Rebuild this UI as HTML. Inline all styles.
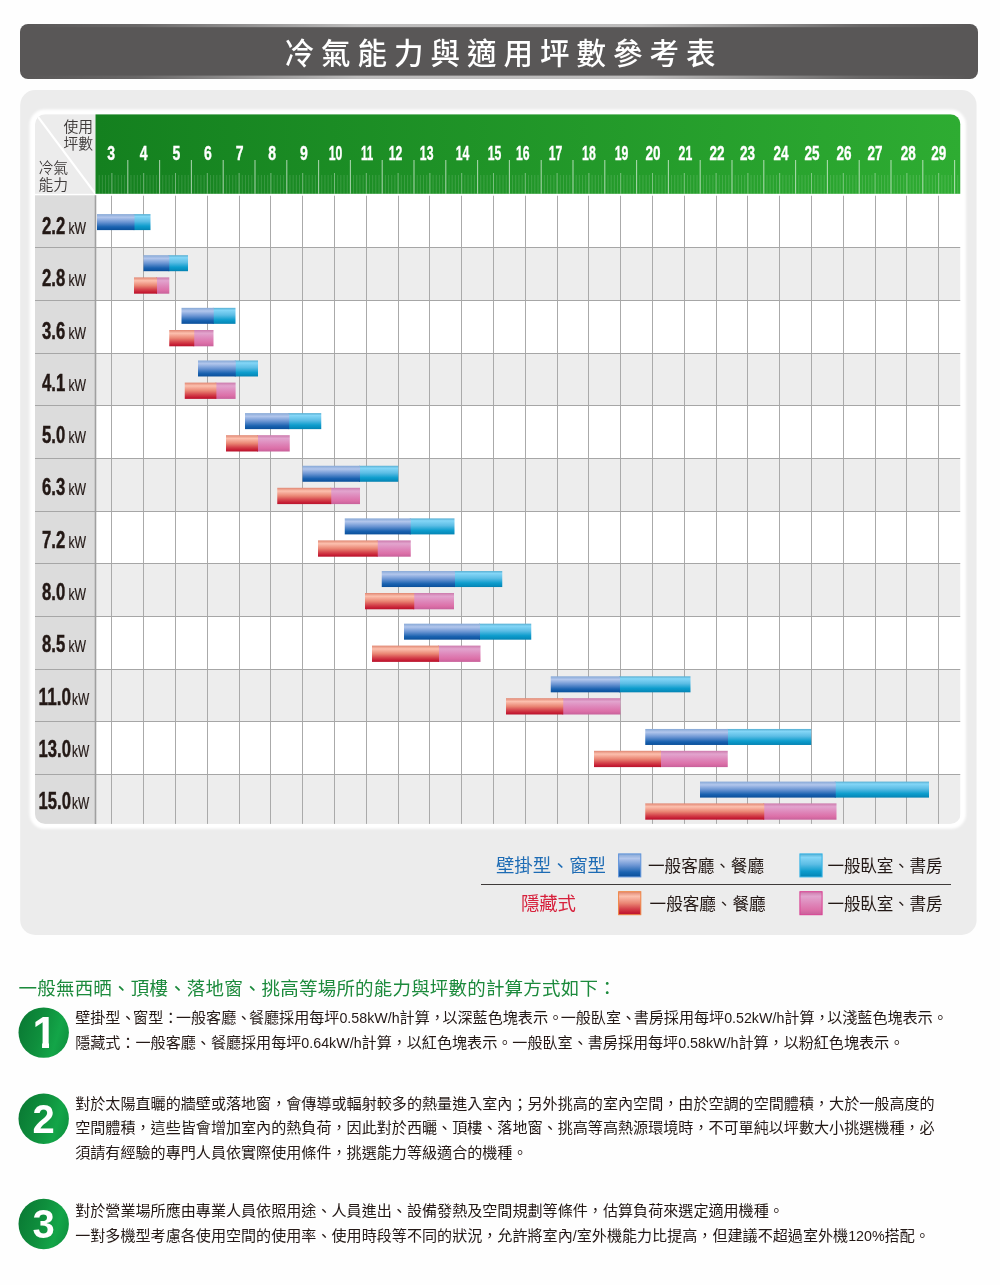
<!DOCTYPE html>
<html lang="zh-Hant"><head><meta charset="utf-8"><title>冷氣能力與適用坪數參考表</title>
<style>html,body{margin:0;padding:0;background:#fefefe}body{width:1000px;height:1285px;overflow:hidden}</style>
</head><body>
<svg width="1000" height="1285" viewBox="0 0 1000 1285" style="display:block">
<defs>
<linearGradient id="gGreen" x1="0" y1="0" x2="1" y2="0"><stop offset="0" stop-color="#14801f"/><stop offset="1" stop-color="#2eac32"/></linearGradient>
<linearGradient id="gB1" x1="0" y1="0" x2="0" y2="1"><stop offset="0" stop-color="#86a8d6"/><stop offset="0.2" stop-color="#b2c6ec"/><stop offset="0.5" stop-color="#6b95d3"/><stop offset="0.8" stop-color="#1a62b0"/><stop offset="1" stop-color="#0a4f9a"/></linearGradient>
<linearGradient id="gB2" x1="0" y1="0" x2="0" y2="1"><stop offset="0" stop-color="#56aed2"/><stop offset="0.15" stop-color="#84d6f7"/><stop offset="0.45" stop-color="#5cbde5"/><stop offset="0.75" stop-color="#0e9dcd"/><stop offset="0.95" stop-color="#0589b9"/><stop offset="1" stop-color="#037eae"/></linearGradient>
<linearGradient id="gR1" x1="0" y1="0" x2="0" y2="1"><stop offset="0" stop-color="#e08672"/><stop offset="0.2" stop-color="#fcc0ae"/><stop offset="0.5" stop-color="#ea8674"/><stop offset="0.75" stop-color="#d4414a"/><stop offset="0.92" stop-color="#c41a32"/><stop offset="1" stop-color="#b8162e"/></linearGradient>
<linearGradient id="gR2" x1="0" y1="0" x2="0" y2="1"><stop offset="0" stop-color="#cc7aac"/><stop offset="0.2" stop-color="#e2a4ce"/><stop offset="0.55" stop-color="#de84b8"/><stop offset="0.8" stop-color="#dc70a8"/><stop offset="1" stop-color="#c8609a"/></linearGradient>
<linearGradient id="gHi" x1="0" y1="0" x2="1" y2="0"><stop offset="0" stop-color="#fff" stop-opacity="0"/><stop offset="0.12" stop-color="#fff" stop-opacity="0.1"/><stop offset="0.35" stop-color="#fff" stop-opacity="0.6"/><stop offset="0.65" stop-color="#fff" stop-opacity="0.6"/><stop offset="0.88" stop-color="#fff" stop-opacity="0.1"/><stop offset="1" stop-color="#fff" stop-opacity="0"/></linearGradient>
<linearGradient id="gCirc" x1="0" y1="0.3" x2="1" y2="0.6"><stop offset="0" stop-color="#0a7a34"/><stop offset="0.45" stop-color="#0f8f3d"/><stop offset="0.78" stop-color="#13a548"/><stop offset="1" stop-color="#0f9440"/></linearGradient>
<clipPath id="cTab"><rect x="35" y="114.2" width="925.5" height="709.7" rx="10" ry="10"/></clipPath>
<filter id="fBlur" x="-5%" y="-5%" width="110%" height="110%"><feGaussianBlur stdDeviation="0.8"/></filter>
</defs>
<rect width="1000" height="1285" fill="#fefefe"/>
<rect x="20" y="24" width="958" height="55" rx="8" ry="8" fill="#595757"/>
<rect x="24" y="24" width="950" height="3.2" fill="url(#gHi)"/>
<rect x="24" y="75.6" width="950" height="3.4" fill="url(#gHi)"/>
<text x="500" y="64.2" font-family='"Liberation Sans", "Noto Sans CJK TC", sans-serif' font-size="29.5" font-weight="500" fill="#fff" text-anchor="middle" textLength="431" lengthAdjust="spacing">冷氣能力與適用坪數參考表</text>
<rect x="20.2" y="90" width="956.4" height="845" rx="15" ry="15" fill="#ececec"/>
<rect x="29.6" y="109.6" width="936.4" height="719.2" rx="15" ry="15" fill="#fff" filter="url(#fBlur)"/>
<g clip-path="url(#cTab)">
<rect x="35" y="114.2" width="925.5" height="709.7" fill="#fff"/>
<rect x="35" y="114.2" width="60.5" height="79.6" fill="#ececec"/>
<line x1="36" y1="114.2" x2="95.5" y2="193.8" stroke="#fff" stroke-width="2.2"/>
<rect x="95.5" y="114.2" width="865" height="79.6" fill="url(#gGreen)"/>
<path d="M99.18 175V193.8M102.36 175V193.8M105.54 175V193.8M108.72 175V193.8M115.08 175V193.8M118.26 175V193.8M121.44 175V193.8M124.62 175V193.8M130.98 175V193.8M134.16 175V193.8M137.34 175V193.8M140.52 175V193.8M146.88 175V193.8M150.06 175V193.8M153.24 175V193.8M156.42 175V193.8M162.78 175V193.8M165.96 175V193.8M169.14 175V193.8M172.32 175V193.8M178.68 175V193.8M181.86 175V193.8M185.04 175V193.8M188.22 175V193.8M194.58 175V193.8M197.76 175V193.8M200.94 175V193.8M204.12 175V193.8M210.48 175V193.8M213.66 175V193.8M216.84 175V193.8M220.02 175V193.8M226.38 175V193.8M229.56 175V193.8M232.74 175V193.8M235.92 175V193.8M242.28 175V193.8M245.46 175V193.8M248.64 175V193.8M251.82 175V193.8M258.18 175V193.8M261.36 175V193.8M264.54 175V193.8M267.72 175V193.8M274.08 175V193.8M277.26 175V193.8M280.44 175V193.8M283.62 175V193.8M289.98 175V193.8M293.16 175V193.8M296.34 175V193.8M299.52 175V193.8M305.88 175V193.8M309.06 175V193.8M312.24 175V193.8M315.42 175V193.8M321.78 175V193.8M324.96 175V193.8M328.14 175V193.8M331.32 175V193.8M337.68 175V193.8M340.86 175V193.8M344.04 175V193.8M347.22 175V193.8M353.58 175V193.8M356.76 175V193.8M359.94 175V193.8M363.12 175V193.8M369.48 175V193.8M372.66 175V193.8M375.84 175V193.8M379.02 175V193.8M385.38 175V193.8M388.56 175V193.8M391.74 175V193.8M394.92 175V193.8M401.28 175V193.8M404.46 175V193.8M407.64 175V193.8M410.82 175V193.8M417.18 175V193.8M420.36 175V193.8M423.54 175V193.8M426.72 175V193.8M433.08 175V193.8M436.26 175V193.8M439.44 175V193.8M442.62 175V193.8M448.98 175V193.8M452.16 175V193.8M455.34 175V193.8M458.52 175V193.8M464.88 175V193.8M468.06 175V193.8M471.24 175V193.8M474.42 175V193.8M480.78 175V193.8M483.96 175V193.8M487.14 175V193.8M490.32 175V193.8M496.68 175V193.8M499.86 175V193.8M503.04 175V193.8M506.22 175V193.8M512.58 175V193.8M515.76 175V193.8M518.94 175V193.8M522.12 175V193.8M528.48 175V193.8M531.66 175V193.8M534.84 175V193.8M538.02 175V193.8M544.38 175V193.8M547.56 175V193.8M550.74 175V193.8M553.92 175V193.8M560.28 175V193.8M563.46 175V193.8M566.64 175V193.8M569.82 175V193.8M576.18 175V193.8M579.36 175V193.8M582.54 175V193.8M585.72 175V193.8M592.08 175V193.8M595.26 175V193.8M598.44 175V193.8M601.62 175V193.8M607.98 175V193.8M611.16 175V193.8M614.34 175V193.8M617.52 175V193.8M623.88 175V193.8M627.06 175V193.8M630.24 175V193.8M633.42 175V193.8M639.78 175V193.8M642.96 175V193.8M646.14 175V193.8M649.32 175V193.8M655.68 175V193.8M658.86 175V193.8M662.04 175V193.8M665.22 175V193.8M671.58 175V193.8M674.76 175V193.8M677.94 175V193.8M681.12 175V193.8M687.48 175V193.8M690.66 175V193.8M693.84 175V193.8M697.02 175V193.8M703.38 175V193.8M706.56 175V193.8M709.74 175V193.8M712.92 175V193.8M719.28 175V193.8M722.46 175V193.8M725.64 175V193.8M728.82 175V193.8M735.18 175V193.8M738.36 175V193.8M741.54 175V193.8M744.72 175V193.8M751.08 175V193.8M754.26 175V193.8M757.44 175V193.8M760.62 175V193.8M766.98 175V193.8M770.16 175V193.8M773.34 175V193.8M776.52 175V193.8M782.88 175V193.8M786.06 175V193.8M789.24 175V193.8M792.42 175V193.8M798.78 175V193.8M801.96 175V193.8M805.14 175V193.8M808.32 175V193.8M814.68 175V193.8M817.86 175V193.8M821.04 175V193.8M824.22 175V193.8M830.58 175V193.8M833.76 175V193.8M836.94 175V193.8M840.12 175V193.8M846.48 175V193.8M849.66 175V193.8M852.84 175V193.8M856.02 175V193.8M862.38 175V193.8M865.56 175V193.8M868.74 175V193.8M871.92 175V193.8M878.28 175V193.8M881.46 175V193.8M884.64 175V193.8M887.82 175V193.8M894.18 175V193.8M897.36 175V193.8M900.54 175V193.8M903.72 175V193.8M910.08 175V193.8M913.26 175V193.8M916.44 175V193.8M919.62 175V193.8M925.98 175V193.8M929.16 175V193.8M932.34 175V193.8M935.52 175V193.8M941.88 175V193.8M945.06 175V193.8M948.24 175V193.8M951.42 175V193.8M957.78 175V193.8" stroke="#fff" stroke-opacity="0.16" stroke-width="0.9" fill="none"/>
<path d="M111.90 173V193.8M143.70 173V193.8M175.50 173V193.8M207.30 173V193.8M239.10 173V193.8M270.90 173V193.8M302.70 173V193.8M334.50 173V193.8M366.30 173V193.8M398.10 173V193.8M429.90 173V193.8M461.70 173V193.8M493.50 173V193.8M525.30 173V193.8M557.10 173V193.8M588.90 173V193.8M620.70 173V193.8M652.50 173V193.8M684.30 173V193.8M716.10 173V193.8M747.90 173V193.8M779.70 173V193.8M811.50 173V193.8M843.30 173V193.8M875.10 173V193.8M906.90 173V193.8M938.70 173V193.8" stroke="#fff" stroke-opacity="0.4" stroke-width="1" fill="none"/>
<path d="M127.80 160V193.8M159.60 160V193.8M191.40 160V193.8M223.20 160V193.8M255.00 160V193.8M286.80 160V193.8M318.60 160V193.8M350.40 160V193.8M382.20 160V193.8M414.00 160V193.8M445.80 160V193.8M477.60 160V193.8M509.40 160V193.8M541.20 160V193.8M573.00 160V193.8M604.80 160V193.8M636.60 160V193.8M668.40 160V193.8M700.20 160V193.8M732.00 160V193.8M763.80 160V193.8M795.60 160V193.8M827.40 160V193.8M859.20 160V193.8M891.00 160V193.8M922.80 160V193.8M954.60 160V193.8" stroke="#fff" stroke-opacity="0.6" stroke-width="1.1" fill="none"/>
<text x="107.25" y="160.4" font-family='"Liberation Sans", sans-serif' font-weight="700" font-size="19.5" fill="#fff" stroke="#fff" stroke-width="0.35" textLength="7.8" lengthAdjust="spacingAndGlyphs">3</text>
<text x="139.80" y="160.4" font-family='"Liberation Sans", sans-serif' font-weight="700" font-size="19.5" fill="#fff" stroke="#fff" stroke-width="0.35" textLength="7.8" lengthAdjust="spacingAndGlyphs">4</text>
<text x="172.60" y="160.4" font-family='"Liberation Sans", sans-serif' font-weight="700" font-size="19.5" fill="#fff" stroke="#fff" stroke-width="0.35" textLength="7.8" lengthAdjust="spacingAndGlyphs">5</text>
<text x="203.90" y="160.4" font-family='"Liberation Sans", sans-serif' font-weight="700" font-size="19.5" fill="#fff" stroke="#fff" stroke-width="0.35" textLength="7.8" lengthAdjust="spacingAndGlyphs">6</text>
<text x="235.70" y="160.4" font-family='"Liberation Sans", sans-serif' font-weight="700" font-size="19.5" fill="#fff" stroke="#fff" stroke-width="0.35" textLength="7.8" lengthAdjust="spacingAndGlyphs">7</text>
<text x="268.25" y="160.4" font-family='"Liberation Sans", sans-serif' font-weight="700" font-size="19.5" fill="#fff" stroke="#fff" stroke-width="0.35" textLength="7.8" lengthAdjust="spacingAndGlyphs">8</text>
<text x="300.05" y="160.4" font-family='"Liberation Sans", sans-serif' font-weight="700" font-size="19.5" fill="#fff" stroke="#fff" stroke-width="0.35" textLength="7.8" lengthAdjust="spacingAndGlyphs">9</text>
<text x="328.70" y="160.4" font-family='"Liberation Sans", sans-serif' font-weight="700" font-size="19.5" fill="#fff" stroke="#fff" stroke-width="0.35" textLength="13.6" lengthAdjust="spacingAndGlyphs">10</text>
<text x="360.95" y="160.4" font-family='"Liberation Sans", sans-serif' font-weight="700" font-size="19.5" fill="#fff" stroke="#fff" stroke-width="0.35" textLength="12.2" lengthAdjust="spacingAndGlyphs">11</text>
<text x="388.80" y="160.4" font-family='"Liberation Sans", sans-serif' font-weight="700" font-size="19.5" fill="#fff" stroke="#fff" stroke-width="0.35" textLength="13.6" lengthAdjust="spacingAndGlyphs">12</text>
<text x="419.85" y="160.4" font-family='"Liberation Sans", sans-serif' font-weight="700" font-size="19.5" fill="#fff" stroke="#fff" stroke-width="0.35" textLength="13.6" lengthAdjust="spacingAndGlyphs">13</text>
<text x="455.80" y="160.4" font-family='"Liberation Sans", sans-serif' font-weight="700" font-size="19.5" fill="#fff" stroke="#fff" stroke-width="0.35" textLength="13.6" lengthAdjust="spacingAndGlyphs">14</text>
<text x="487.70" y="160.4" font-family='"Liberation Sans", sans-serif' font-weight="700" font-size="19.5" fill="#fff" stroke="#fff" stroke-width="0.35" textLength="13.6" lengthAdjust="spacingAndGlyphs">15</text>
<text x="516.00" y="160.4" font-family='"Liberation Sans", sans-serif' font-weight="700" font-size="19.5" fill="#fff" stroke="#fff" stroke-width="0.35" textLength="13.6" lengthAdjust="spacingAndGlyphs">16</text>
<text x="548.70" y="160.4" font-family='"Liberation Sans", sans-serif' font-weight="700" font-size="19.5" fill="#fff" stroke="#fff" stroke-width="0.35" textLength="13.6" lengthAdjust="spacingAndGlyphs">17</text>
<text x="582.10" y="160.4" font-family='"Liberation Sans", sans-serif' font-weight="700" font-size="19.5" fill="#fff" stroke="#fff" stroke-width="0.35" textLength="13.6" lengthAdjust="spacingAndGlyphs">18</text>
<text x="614.65" y="160.4" font-family='"Liberation Sans", sans-serif' font-weight="700" font-size="19.5" fill="#fff" stroke="#fff" stroke-width="0.35" textLength="13.6" lengthAdjust="spacingAndGlyphs">19</text>
<text x="645.50" y="160.4" font-family='"Liberation Sans", sans-serif' font-weight="700" font-size="19.5" fill="#fff" stroke="#fff" stroke-width="0.35" textLength="15" lengthAdjust="spacingAndGlyphs">20</text>
<text x="678.60" y="160.4" font-family='"Liberation Sans", sans-serif' font-weight="700" font-size="19.5" fill="#fff" stroke="#fff" stroke-width="0.35" textLength="13.6" lengthAdjust="spacingAndGlyphs">21</text>
<text x="709.60" y="160.4" font-family='"Liberation Sans", sans-serif' font-weight="700" font-size="19.5" fill="#fff" stroke="#fff" stroke-width="0.35" textLength="15" lengthAdjust="spacingAndGlyphs">22</text>
<text x="739.90" y="160.4" font-family='"Liberation Sans", sans-serif' font-weight="700" font-size="19.5" fill="#fff" stroke="#fff" stroke-width="0.35" textLength="15" lengthAdjust="spacingAndGlyphs">23</text>
<text x="773.45" y="160.4" font-family='"Liberation Sans", sans-serif' font-weight="700" font-size="19.5" fill="#fff" stroke="#fff" stroke-width="0.35" textLength="15" lengthAdjust="spacingAndGlyphs">24</text>
<text x="804.50" y="160.4" font-family='"Liberation Sans", sans-serif' font-weight="700" font-size="19.5" fill="#fff" stroke="#fff" stroke-width="0.35" textLength="15" lengthAdjust="spacingAndGlyphs">25</text>
<text x="836.60" y="160.4" font-family='"Liberation Sans", sans-serif' font-weight="700" font-size="19.5" fill="#fff" stroke="#fff" stroke-width="0.35" textLength="15" lengthAdjust="spacingAndGlyphs">26</text>
<text x="867.50" y="160.4" font-family='"Liberation Sans", sans-serif' font-weight="700" font-size="19.5" fill="#fff" stroke="#fff" stroke-width="0.35" textLength="15" lengthAdjust="spacingAndGlyphs">27</text>
<text x="900.80" y="160.4" font-family='"Liberation Sans", sans-serif' font-weight="700" font-size="19.5" fill="#fff" stroke="#fff" stroke-width="0.35" textLength="15" lengthAdjust="spacingAndGlyphs">28</text>
<text x="931.35" y="160.4" font-family='"Liberation Sans", sans-serif' font-weight="700" font-size="19.5" fill="#fff" stroke="#fff" stroke-width="0.35" textLength="15" lengthAdjust="spacingAndGlyphs">29</text>
<rect x="95.5" y="195.30" width="865" height="52.64" fill="#ffffff"/>
<rect x="35" y="195.30" width="60.5" height="52.64" fill="#dcdcdc"/>
<rect x="95.5" y="247.94" width="865" height="52.64" fill="#ededed"/>
<rect x="35" y="247.94" width="60.5" height="52.64" fill="#dcdcdc"/>
<rect x="95.5" y="300.58" width="865" height="52.64" fill="#ffffff"/>
<rect x="35" y="300.58" width="60.5" height="52.64" fill="#dcdcdc"/>
<rect x="95.5" y="353.22" width="865" height="52.64" fill="#ededed"/>
<rect x="35" y="353.22" width="60.5" height="52.64" fill="#dcdcdc"/>
<rect x="95.5" y="405.86" width="865" height="52.64" fill="#ffffff"/>
<rect x="35" y="405.86" width="60.5" height="52.64" fill="#dcdcdc"/>
<rect x="95.5" y="458.50" width="865" height="52.64" fill="#ededed"/>
<rect x="35" y="458.50" width="60.5" height="52.64" fill="#dcdcdc"/>
<rect x="95.5" y="511.14" width="865" height="52.64" fill="#ffffff"/>
<rect x="35" y="511.14" width="60.5" height="52.64" fill="#dcdcdc"/>
<rect x="95.5" y="563.78" width="865" height="52.64" fill="#ededed"/>
<rect x="35" y="563.78" width="60.5" height="52.64" fill="#dcdcdc"/>
<rect x="95.5" y="616.42" width="865" height="52.64" fill="#ffffff"/>
<rect x="35" y="616.42" width="60.5" height="52.64" fill="#dcdcdc"/>
<rect x="95.5" y="669.06" width="865" height="52.64" fill="#ededed"/>
<rect x="35" y="669.06" width="60.5" height="52.64" fill="#dcdcdc"/>
<rect x="95.5" y="721.70" width="865" height="52.64" fill="#ffffff"/>
<rect x="35" y="721.70" width="60.5" height="52.64" fill="#dcdcdc"/>
<rect x="95.5" y="774.34" width="865" height="49.56" fill="#ededed"/>
<rect x="35" y="774.34" width="60.5" height="49.56" fill="#dcdcdc"/>
<path d="M111.5 195.7V823.9M143.5 195.7V823.9M175.5 195.7V823.9M207.5 195.7V823.9M239.5 195.7V823.9M270.5 195.7V823.9M302.5 195.7V823.9M334.5 195.7V823.9M366.5 195.7V823.9M398.5 195.7V823.9M429.5 195.7V823.9M461.5 195.7V823.9M493.5 195.7V823.9M525.5 195.7V823.9M557.5 195.7V823.9M588.5 195.7V823.9M620.5 195.7V823.9M652.5 195.7V823.9M684.5 195.7V823.9M716.5 195.7V823.9M747.5 195.7V823.9M779.5 195.7V823.9M811.5 195.7V823.9M843.5 195.7V823.9M875.5 195.7V823.9M906.5 195.7V823.9M938.5 195.7V823.9" stroke="#aaaaaa" stroke-width="1" fill="none"/>
<path d="M35 247.5H960.5M35 300.5H960.5M35 353.5H960.5M35 405.5H960.5M35 458.5H960.5M35 511.5H960.5M35 563.5H960.5M35 616.5H960.5M35 669.5H960.5M35 721.5H960.5M35 774.5H960.5" stroke="#a6a6a6" stroke-width="1" fill="none"/>
<line x1="95.5" y1="195.3" x2="95.5" y2="823.9" stroke="#a0a0a0" stroke-width="1.6"/>
<rect x="133.5" y="214.10" width="17" height="16.0" fill="url(#gB2)"/>
<rect x="97" y="214.10" width="37.5" height="16.0" fill="url(#gB1)"/>
<rect x="168.3" y="255.20" width="19.7" height="16.0" fill="url(#gB2)"/>
<rect x="143.5" y="255.20" width="25.8" height="16.0" fill="url(#gB1)"/>
<rect x="156" y="277.40" width="13.3" height="16.3" fill="url(#gR2)"/>
<rect x="134" y="277.40" width="23" height="16.3" fill="url(#gR1)"/>
<rect x="212.75" y="307.84" width="22.75" height="16.0" fill="url(#gB2)"/>
<rect x="181.5" y="307.84" width="32.25" height="16.0" fill="url(#gB1)"/>
<rect x="193.25" y="330.00" width="20.25" height="16.3" fill="url(#gR2)"/>
<rect x="169.25" y="330.00" width="25" height="16.3" fill="url(#gR1)"/>
<rect x="234.75" y="360.48" width="23.25" height="16.0" fill="url(#gB2)"/>
<rect x="198" y="360.48" width="37.75" height="16.0" fill="url(#gB1)"/>
<rect x="215.4" y="382.60" width="20.2" height="16.3" fill="url(#gR2)"/>
<rect x="184.75" y="382.60" width="31.65" height="16.3" fill="url(#gR1)"/>
<rect x="288.25" y="413.12" width="33" height="16.0" fill="url(#gB2)"/>
<rect x="245" y="413.12" width="44.25" height="16.0" fill="url(#gB1)"/>
<rect x="257" y="435.20" width="32.75" height="16.3" fill="url(#gR2)"/>
<rect x="226" y="435.20" width="32" height="16.3" fill="url(#gR1)"/>
<rect x="359" y="465.76" width="39.25" height="16.0" fill="url(#gB2)"/>
<rect x="302.5" y="465.76" width="57.5" height="16.0" fill="url(#gB1)"/>
<rect x="330.25" y="487.80" width="29.75" height="16.3" fill="url(#gR2)"/>
<rect x="277.25" y="487.80" width="54" height="16.3" fill="url(#gR1)"/>
<rect x="409.75" y="518.40" width="44.75" height="16.0" fill="url(#gB2)"/>
<rect x="344.75" y="518.40" width="66" height="16.0" fill="url(#gB1)"/>
<rect x="376.75" y="540.40" width="34" height="16.3" fill="url(#gR2)"/>
<rect x="318" y="540.40" width="59.75" height="16.3" fill="url(#gR1)"/>
<rect x="454" y="571.04" width="48.25" height="16.0" fill="url(#gB2)"/>
<rect x="381.75" y="571.04" width="73.25" height="16.0" fill="url(#gB1)"/>
<rect x="413.25" y="593.00" width="40.75" height="16.3" fill="url(#gR2)"/>
<rect x="365" y="593.00" width="49.25" height="16.3" fill="url(#gR1)"/>
<rect x="479" y="623.68" width="52.25" height="16.0" fill="url(#gB2)"/>
<rect x="404" y="623.68" width="76" height="16.0" fill="url(#gB1)"/>
<rect x="438" y="645.60" width="42.5" height="16.3" fill="url(#gR2)"/>
<rect x="372" y="645.60" width="67" height="16.3" fill="url(#gR1)"/>
<rect x="619" y="676.32" width="71.5" height="16.0" fill="url(#gB2)"/>
<rect x="550.75" y="676.32" width="69.25" height="16.0" fill="url(#gB1)"/>
<rect x="562.25" y="698.20" width="58.25" height="16.3" fill="url(#gR2)"/>
<rect x="506" y="698.20" width="57.25" height="16.3" fill="url(#gR1)"/>
<rect x="727" y="728.96" width="84.25" height="16.0" fill="url(#gB2)"/>
<rect x="645.25" y="728.96" width="82.75" height="16.0" fill="url(#gB1)"/>
<rect x="660" y="750.80" width="67.75" height="16.3" fill="url(#gR2)"/>
<rect x="594" y="750.80" width="67" height="16.3" fill="url(#gR1)"/>
<rect x="834.75" y="781.60" width="94.25" height="16.0" fill="url(#gB2)"/>
<rect x="700" y="781.60" width="135.75" height="16.0" fill="url(#gB1)"/>
<rect x="763.25" y="803.40" width="73.25" height="16.3" fill="url(#gR2)"/>
<rect x="645.25" y="803.40" width="119" height="16.3" fill="url(#gR1)"/>
<text x="42" y="233.90" font-family='"Liberation Sans", sans-serif' font-weight="700" font-size="23" fill="#231815" stroke="#231815" stroke-width="0.45" textLength="23.2" lengthAdjust="spacingAndGlyphs">2.2</text>
<text x="68.4" y="233.90" font-family='"Liberation Sans", sans-serif' font-size="15.8" fill="#231815" stroke="#231815" stroke-width="0.2" textLength="17.6" lengthAdjust="spacingAndGlyphs">kW</text>
<text x="42" y="286.20" font-family='"Liberation Sans", sans-serif' font-weight="700" font-size="23" fill="#231815" stroke="#231815" stroke-width="0.45" textLength="23.2" lengthAdjust="spacingAndGlyphs">2.8</text>
<text x="68.4" y="286.20" font-family='"Liberation Sans", sans-serif' font-size="15.8" fill="#231815" stroke="#231815" stroke-width="0.2" textLength="17.6" lengthAdjust="spacingAndGlyphs">kW</text>
<text x="42" y="338.50" font-family='"Liberation Sans", sans-serif' font-weight="700" font-size="23" fill="#231815" stroke="#231815" stroke-width="0.45" textLength="23.2" lengthAdjust="spacingAndGlyphs">3.6</text>
<text x="68.4" y="338.50" font-family='"Liberation Sans", sans-serif' font-size="15.8" fill="#231815" stroke="#231815" stroke-width="0.2" textLength="17.6" lengthAdjust="spacingAndGlyphs">kW</text>
<text x="42" y="390.80" font-family='"Liberation Sans", sans-serif' font-weight="700" font-size="23" fill="#231815" stroke="#231815" stroke-width="0.45" textLength="23.2" lengthAdjust="spacingAndGlyphs">4.1</text>
<text x="68.4" y="390.80" font-family='"Liberation Sans", sans-serif' font-size="15.8" fill="#231815" stroke="#231815" stroke-width="0.2" textLength="17.6" lengthAdjust="spacingAndGlyphs">kW</text>
<text x="42" y="443.10" font-family='"Liberation Sans", sans-serif' font-weight="700" font-size="23" fill="#231815" stroke="#231815" stroke-width="0.45" textLength="23.2" lengthAdjust="spacingAndGlyphs">5.0</text>
<text x="68.4" y="443.10" font-family='"Liberation Sans", sans-serif' font-size="15.8" fill="#231815" stroke="#231815" stroke-width="0.2" textLength="17.6" lengthAdjust="spacingAndGlyphs">kW</text>
<text x="42" y="495.40" font-family='"Liberation Sans", sans-serif' font-weight="700" font-size="23" fill="#231815" stroke="#231815" stroke-width="0.45" textLength="23.2" lengthAdjust="spacingAndGlyphs">6.3</text>
<text x="68.4" y="495.40" font-family='"Liberation Sans", sans-serif' font-size="15.8" fill="#231815" stroke="#231815" stroke-width="0.2" textLength="17.6" lengthAdjust="spacingAndGlyphs">kW</text>
<text x="42" y="547.70" font-family='"Liberation Sans", sans-serif' font-weight="700" font-size="23" fill="#231815" stroke="#231815" stroke-width="0.45" textLength="23.2" lengthAdjust="spacingAndGlyphs">7.2</text>
<text x="68.4" y="547.70" font-family='"Liberation Sans", sans-serif' font-size="15.8" fill="#231815" stroke="#231815" stroke-width="0.2" textLength="17.6" lengthAdjust="spacingAndGlyphs">kW</text>
<text x="42" y="600.00" font-family='"Liberation Sans", sans-serif' font-weight="700" font-size="23" fill="#231815" stroke="#231815" stroke-width="0.45" textLength="23.2" lengthAdjust="spacingAndGlyphs">8.0</text>
<text x="68.4" y="600.00" font-family='"Liberation Sans", sans-serif' font-size="15.8" fill="#231815" stroke="#231815" stroke-width="0.2" textLength="17.6" lengthAdjust="spacingAndGlyphs">kW</text>
<text x="42" y="652.30" font-family='"Liberation Sans", sans-serif' font-weight="700" font-size="23" fill="#231815" stroke="#231815" stroke-width="0.45" textLength="23.2" lengthAdjust="spacingAndGlyphs">8.5</text>
<text x="68.4" y="652.30" font-family='"Liberation Sans", sans-serif' font-size="15.8" fill="#231815" stroke="#231815" stroke-width="0.2" textLength="17.6" lengthAdjust="spacingAndGlyphs">kW</text>
<text x="38.6" y="704.60" font-family='"Liberation Sans", sans-serif' font-weight="700" font-size="23" fill="#231815" stroke="#231815" stroke-width="0.45" textLength="32.4" lengthAdjust="spacingAndGlyphs">11.0</text>
<text x="72" y="704.60" font-family='"Liberation Sans", sans-serif' font-size="15.8" fill="#231815" stroke="#231815" stroke-width="0.2" textLength="17.2" lengthAdjust="spacingAndGlyphs">kW</text>
<text x="38.6" y="756.90" font-family='"Liberation Sans", sans-serif' font-weight="700" font-size="23" fill="#231815" stroke="#231815" stroke-width="0.45" textLength="32.4" lengthAdjust="spacingAndGlyphs">13.0</text>
<text x="72" y="756.90" font-family='"Liberation Sans", sans-serif' font-size="15.8" fill="#231815" stroke="#231815" stroke-width="0.2" textLength="17.2" lengthAdjust="spacingAndGlyphs">kW</text>
<text x="38.6" y="809.20" font-family='"Liberation Sans", sans-serif' font-weight="700" font-size="23" fill="#231815" stroke="#231815" stroke-width="0.45" textLength="32.4" lengthAdjust="spacingAndGlyphs">15.0</text>
<text x="72" y="809.20" font-family='"Liberation Sans", sans-serif' font-size="15.8" fill="#231815" stroke="#231815" stroke-width="0.2" textLength="17.2" lengthAdjust="spacingAndGlyphs">kW</text>
<text x="63.4" y="132.4" font-family='"Liberation Sans", "Noto Sans CJK TC", sans-serif' font-size="14.8" font-weight="350" fill="#3e3a39">使用</text>
<text x="63.4" y="149.0" font-family='"Liberation Sans", "Noto Sans CJK TC", sans-serif' font-size="14.8" font-weight="350" fill="#3e3a39">坪數</text>
<text x="38.4" y="173.4" font-family='"Liberation Sans", "Noto Sans CJK TC", sans-serif' font-size="14.8" font-weight="350" fill="#3e3a39">冷氣</text>
<text x="38.4" y="189.8" font-family='"Liberation Sans", "Noto Sans CJK TC", sans-serif' font-size="14.8" font-weight="350" fill="#3e3a39">能力</text>
</g>
<rect x="618.6" y="853.9" width="22.2" height="23" fill="url(#gB1)" stroke="#5f93da" stroke-width="1"/>
<rect x="799.9" y="853.9" width="22.2" height="23" fill="url(#gB2)" stroke="#35b3e6" stroke-width="1"/>
<rect x="618.6" y="891.7" width="22.2" height="23" fill="url(#gR1)" stroke="#ef8443" stroke-width="1"/>
<rect x="799.9" y="891.7" width="22.2" height="23" fill="url(#gR2)" stroke="#d93f92" stroke-width="1"/>
<line x1="481" y1="884.5" x2="951" y2="884.5" stroke="#3e3a39" stroke-width="1"/>
<text x="496" y="872" font-family='"Liberation Sans", "Noto Sans CJK TC", sans-serif' font-size="18.4" fill="#1d6bb4" textLength="110" lengthAdjust="spacing">壁掛型、窗型</text>
<text x="521" y="910" font-family='"Liberation Sans", "Noto Sans CJK TC", sans-serif' font-size="18.4" fill="#d7213c" textLength="55" lengthAdjust="spacing">隱藏式</text>
<text x="648" y="872" font-family='"Liberation Sans", "Noto Sans CJK TC", sans-serif' font-size="16.6" fill="#231815" textLength="116" lengthAdjust="spacing">一般客廳、餐廳</text>
<text x="827.5" y="872" font-family='"Liberation Sans", "Noto Sans CJK TC", sans-serif' font-size="16.6" fill="#231815" textLength="115" lengthAdjust="spacing">一般臥室、書房</text>
<text x="649.6" y="910" font-family='"Liberation Sans", "Noto Sans CJK TC", sans-serif' font-size="16.6" fill="#231815" textLength="116" lengthAdjust="spacing">一般客廳、餐廳</text>
<text x="827.5" y="910" font-family='"Liberation Sans", "Noto Sans CJK TC", sans-serif' font-size="16.6" fill="#231815" textLength="115" lengthAdjust="spacing">一般臥室、書房</text>
<text x="18.6" y="994.5" font-family='"Liberation Sans", "Noto Sans CJK TC", sans-serif' font-size="18.5" fill="#1c8a3c" textLength="598" lengthAdjust="spacing">一般無西晒、頂樓、落地窗、挑高等場所的能力與坪數的計算方式如下：</text>
<circle cx="43.7" cy="1032.6" r="25.2" fill="url(#gCirc)"/>
<clipPath id="cOne"><polygon points="30,1005 60,1005 60,1043.00 49.0,1043.00 49.0,1049.00 42.05,1049.00 42.05,1043.00 30,1043.00"/></clipPath>
<text x="44.7" y="1048.00" clip-path="url(#cOne)" font-family='"Liberation Sans", sans-serif' font-size="43.5" font-weight="700" fill="#fff" text-anchor="middle">1</text>
<circle cx="43.7" cy="1118.7" r="25.2" fill="url(#gCirc)"/>
<text x="43.7" y="1133" font-family='"Liberation Sans", sans-serif' font-size="40" font-weight="700" fill="#fff" text-anchor="middle">2</text>
<circle cx="43.7" cy="1224" r="25.2" fill="url(#gCirc)"/>
<text x="43.7" y="1238.3" font-family='"Liberation Sans", sans-serif' font-size="40" font-weight="700" fill="#fff" text-anchor="middle">3</text>
<text x="75.2" y="1023.2" font-family='"Liberation Sans", "Noto Sans CJK TC", sans-serif' font-size="15.08" fill="#231815">壁掛型、<tspan dx="-2.4">窗</tspan>型：<tspan dx="-2.4">一</tspan>般客廳、<tspan dx="-2.4">餐</tspan>廳採用每坪<tspan font-size="14.25">0.58kW/h</tspan>計算，<tspan dx="-2.4">以</tspan>深藍色塊表示。<tspan dx="-2.4">一</tspan>般臥室、<tspan dx="-2.4">書</tspan>房採用每坪<tspan font-size="14.25">0.52kW/h</tspan>計算，<tspan dx="-2.4">以</tspan>淺藍色塊表示。</text>
<text x="75.2" y="1048" font-family='"Liberation Sans", "Noto Sans CJK TC", sans-serif' font-size="15.08" fill="#231815">隱藏式：一般客廳、餐廳採用每坪<tspan font-size="14.25">0.64kW/h</tspan>計算，以紅色塊表示。一般臥室、書房採用每坪<tspan font-size="14.25">0.58kW/h</tspan>計算，以粉紅色塊表示。</text>
<text x="75.2" y="1109.2" font-family='"Liberation Sans", "Noto Sans CJK TC", sans-serif' font-size="15.08" fill="#231815">對於太陽直曬的牆壁或落地窗，會傳導或輻射較多的熱量進入室內；另外挑高的室內空間，由於空調的空間體積，大於一般高度的</text>
<text x="75.2" y="1133.4" font-family='"Liberation Sans", "Noto Sans CJK TC", sans-serif' font-size="15.08" fill="#231815">空間體積，這些皆會增加室內的熱負荷，因此對於西曬、頂樓、落地窗、挑高等高熱源環境時，不可單純以坪數大小挑選機種，必</text>
<text x="75.2" y="1158" font-family='"Liberation Sans", "Noto Sans CJK TC", sans-serif' font-size="15.08" fill="#231815">須請有經驗的專門人員依實際使用條件，挑選能力等級適合的機種。</text>
<text x="75.2" y="1216.3" font-family='"Liberation Sans", "Noto Sans CJK TC", sans-serif' font-size="15.08" fill="#231815">對於營業場所應由專業人員依照用途、人員進出、設備發熱及空間規劃等條件，估算負荷來選定適用機種。</text>
<text x="75.2" y="1240.9" font-family='"Liberation Sans", "Noto Sans CJK TC", sans-serif' font-size="15.08" fill="#231815">一對多機型考慮各使用空間的使用率、使用時段等不同的狀況，允許將室內<tspan font-size="14.25">/</tspan>室外機能力比提高，但建議不超過室外機<tspan font-size="14.25">120%</tspan>搭配。</text>
</svg>
</body></html>
